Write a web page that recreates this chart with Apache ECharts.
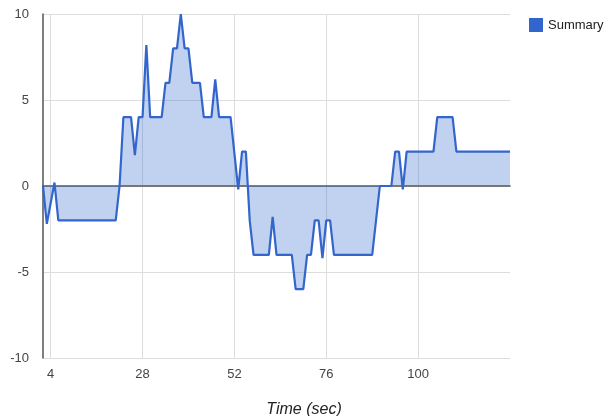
<!DOCTYPE html>
<html><head><meta charset="utf-8">
<script src="https://cdn.jsdelivr.net/npm/echarts@6/dist/echarts.min.js"></script>
<style>html,body{margin:0;padding:0;background:#fff}#c{width:605px;height:416px}</style>
</head><body><div id="c"></div>
<script>
const seriesName = 'Summary';
const timeSec = [2, 3, 5, 6, 21, 22, 23, 25, 26, 27, 28, 29, 30, 33, 34, 35, 36, 37, 38, 39, 40, 41, 43, 44, 46, 47, 48, 51, 53, 54, 55, 56, 57, 61, 62, 63, 67, 68, 70, 71, 72, 73, 74, 75, 76, 77, 78, 88, 90, 93, 94, 95, 96, 97, 104, 105, 109, 110, 124];
const values  = [0, -2.2, 0.2, -2, -2, 0, 4, 4, 1.8, 4, 4, 8.2, 4, 4, 6, 6, 8, 8, 10, 8, 8, 6, 6, 4, 4, 6.2, 4, 4, -0.2, 2, 2, -2, -4, -4, -1.8, -4, -4, -6, -6, -4, -4, -2, -2, -4.2, -2, -2, -4, -4, 0, 0, 2, 2, -0.2, 2, 2, 4, 4, 2, 2];
const xTicks = [4, 28, 52, 76, 100];
const yMin = -10, yMax = 10, yStep = 5;
const xMin = 2, xMax = 124;

const chart = echarts.init(document.getElementById('c'), null, {renderer: 'canvas'});
const font = 'Arial, "Liberation Sans", sans-serif';
chart.setOption({
  animation: false,
  textStyle: {fontFamily: font},
  title: {
    text: 'Time (sec)', left: 299, top: 397, textAlign: 'center',
    textStyle: {fontFamily: font, fontSize: 16, fontStyle: 'italic', fontWeight: 'normal', color: '#222'}
  },
  legend: {
    data: [seriesName], left: 524, top: 13, icon: 'rect', itemWidth: 14, itemHeight: 14, itemGap: 5,
    textStyle: {fontFamily: font, fontSize: 13, color: '#222'}
  },
  grid: {left: 43, right: 95, top: 14, bottom: 58},
  xAxis: {
    type: 'value', min: xMin, max: xMax,
    axisLine: {show: true, onZero: true, lineStyle: {color: '#555', width: 1.5}},
    axisTick: {show: false, customValues: xTicks},
    axisLabel: {customValues: xTicks, color: '#444', fontSize: 13, fontFamily: font, margin: 10},
    splitLine: {show: true, lineStyle: {color: '#ddd', width: 1}}
  },
  yAxis: {
    type: 'value', min: yMin, max: yMax, interval: yStep,
    axisLine: {show: true, onZero: false, lineStyle: {color: '#555', width: 1.5}},
    axisTick: {show: false},
    axisLabel: {color: '#444', fontSize: 13, fontFamily: font, margin: 14},
    splitLine: {show: true, lineStyle: {color: '#ddd', width: 1}}
  },
  series: [{
    name: seriesName, type: 'line', showSymbol: false, symbol: 'none',
    data: timeSec.map((t, i) => [t, values[i]]),
    lineStyle: {color: '#3366CC', width: 2.2},
    itemStyle: {color: '#3366CC'},
    areaStyle: {color: '#3366CC', opacity: 0.3}
  }]
});
</script></body></html>
